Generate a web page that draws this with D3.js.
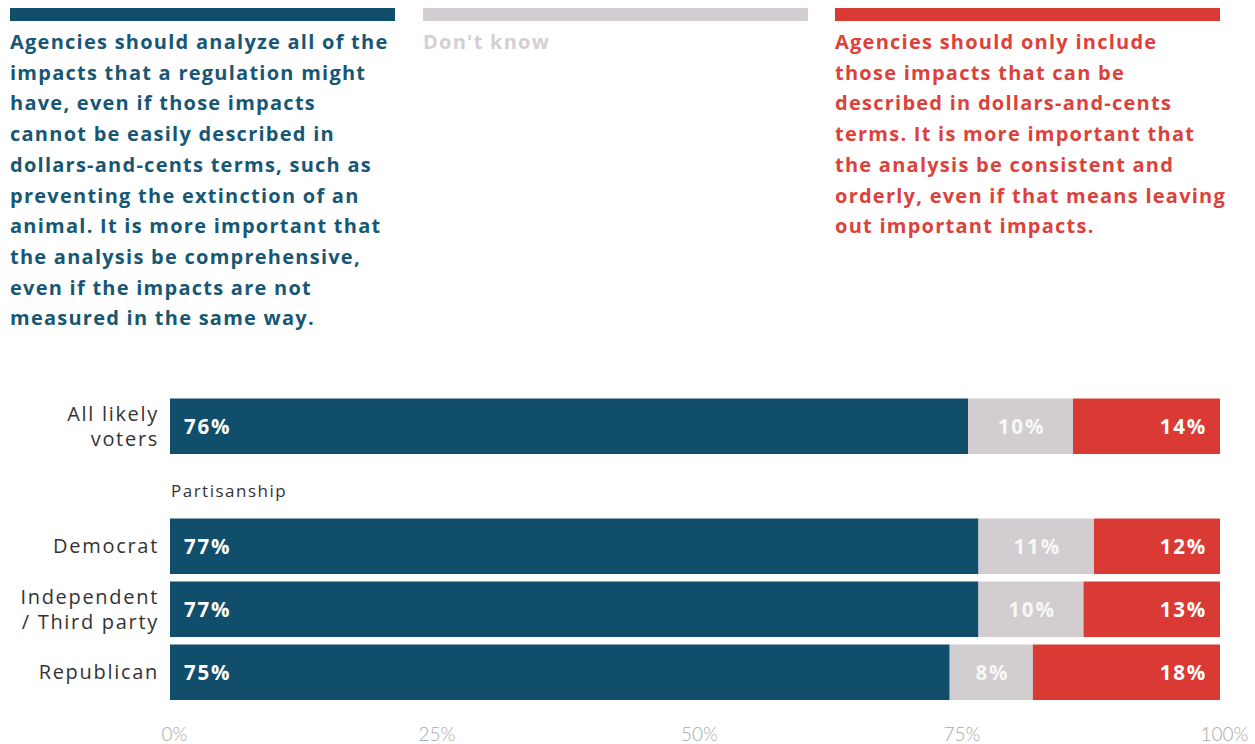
<!DOCTYPE html>
<html>
<head>
<meta charset="utf-8">
<script src="https://cdn.jsdelivr.net/npm/d3@7"></script>
<style>
  html, body { margin: 0; padding: 0; background: #ffffff; }
  svg { display: block; }
  text { font-family: "Open Sans", Lato, sans-serif; }
</style>
</head>
<body>
<svg id="chart" width="1255" height="744"></svg>
<script>
// Survey responses by group (percent of likely voters)
const categories = ["All likely voters", "Democrat", "Independent / Third party", "Republican"];
const categoryLines = [["All likely", "voters"], ["Democrat"], ["Independent", "/ Third party"], ["Republican"]];
const comprehensive = [76, 77, 77, 75];
const dontKnow = [10, 11, 10, 8];
const consistent = [14, 12, 13, 18];

const tickValues = [0, 0.25, 0.5, 0.75, 1];
const tickLabels = ["0%", "25%", "50%", "75%", "100%"];

const seriesKeys = ["comprehensive", "dontKnow", "consistent"];
const legendLines = [
  ["Agencies should analyze all of the", "impacts that a regulation might", "have, even if those impacts",
   "cannot be easily described in", "dollars-and-cents terms, such as", "preventing the extinction of an",
   "animal. It is more important that", "the analysis be comprehensive,", "even if the impacts are not",
   "measured in the same way."],
  ["Don't know"],
  ["Agencies should only include", "those impacts that can be", "described in dollars-and-cents",
   "terms. It is more important that", "the analysis be consistent and",
   "orderly, even if that means leaving", "out important impacts."]
];
const groupLabel = "Partisanship";

const colors = { comprehensive: "#114e6b", dontKnow: "#d1cdd0", consistent: "#da3a34" };
const textColors = { comprehensive: "#175774", dontKnow: "#d3cfd2", consistent: "#dc413b" };

const rows = categories.map((c, i) => ({
  category: c,
  comprehensive: comprehensive[i],
  dontKnow: dontKnow[i],
  consistent: consistent[i]
}));

const svg = d3.select("#chart");

// Layout
const plotLeft = 170, plotRight = 1220;
const firstTop = 398.5, rowStep = 63, barH = 55.5, groupGap = 57;

const x = d3.scaleLinear().domain([0, 1]).range([plotLeft, plotRight]);
const yBand = d3.scaleBand()
  .domain(categories)
  .range([firstTop, firstTop + rowStep * categories.length - (rowStep - barH)])
  .paddingInner((rowStep - barH) / rowStep)
  .paddingOuter(0);
const y = c => yBand(c) + (categories.indexOf(c) > 0 ? groupGap : 0);

// Stack normalised per row so each bar spans the full width
const stacked = d3.stack().keys(seriesKeys).offset(d3.stackOffsetExpand)(rows);

// Legend: colour strip above each column heading
const legendX = d3.scaleOrdinal().domain(seriesKeys).range([10, 423, 835]);
const legendW = 385;
const legend = svg.append("g");
seriesKeys.forEach((k, i) => {
  legend.append("rect")
    .attr("x", legendX(k)).attr("y", 8)
    .attr("width", legendW).attr("height", 13)
    .attr("fill", colors[k]);
  const t = legend.append("text")
    .attr("x", legendX(k)).attr("y", 49)
    .attr("fill", textColors[k])
    .style("font-weight", 700)
    .style("font-size", "20px")
    .style("letter-spacing", "1.25px");
  legendLines[i].forEach((line, j) => {
    t.append("tspan").attr("x", legendX(k)).attr("y", 49 + j * 30.7).text(line);
  });
});

// Bars
const barG = svg.append("g");
stacked.forEach(layer => {
  barG.selectAll(null)
    .data(layer)
    .join("rect")
    .attr("x", d => x(d[0]))
    .attr("y", d => y(d.data.category))
    .attr("width", d => x(d[1]) - x(d[0]))
    .attr("height", yBand.bandwidth())
    .attr("fill", colors[layer.key]);
});

// Value labels
const labelG = svg.append("g")
  .style("font-weight", 700)
  .style("font-size", "20.5px");
stacked.forEach(layer => {
  const k = layer.key;
  labelG.selectAll(null)
    .data(layer)
    .join("text")
    .attr("x", d => k === "comprehensive" ? x(d[0]) + 14
                  : k === "consistent" ? x(d[1]) - 13
                  : (x(d[0]) + x(d[1])) / 2 + 1)
    .attr("y", d => y(d.data.category) + yBand.bandwidth() / 2)
    .attr("dy", "0.36em")
    .attr("text-anchor", k === "comprehensive" ? "start" : k === "consistent" ? "end" : "middle")
    .attr("fill", k === "dontKnow" ? "#f7f7f7" : "#ffffff")
    .style("letter-spacing", "1.8px")
    .text(d => d.data[k] + "%");
});

// Category labels
const catG = svg.append("g")
  .style("font-size", "20px")
  .attr("fill", "#333333");
categories.forEach((c, i) => {
  const lines = categoryLines[i];
  const cy = y(c) + yBand.bandwidth() / 2;
  const lh = 24.5;
  const t = catG.append("text")
    .attr("text-anchor", "end")
    .style("letter-spacing", "1.7px");
  lines.forEach((line, j) => {
    t.append("tspan")
      .attr("x", 159)
      .attr("y", cy + (j - (lines.length - 1) / 2) * lh)
      .attr("dy", "0.36em")
      .text(line);
  });
});

// Group heading
svg.append("text")
  .attr("x", plotLeft + 1)
  .attr("y", y(categories[1]) - 22)
  .attr("fill", "#333333")
  .style("font-size", "17px")
  .style("letter-spacing", "1.5px")
  .text(groupLabel);

// Percentage axis
const axis = d3.axisBottom(x)
  .tickValues(tickValues)
  .tickFormat((d, i) => tickLabels[i])
  .tickSize(0)
  .tickPadding(0);
const axisG = svg.append("g")
  .attr("transform", "translate(4, 727)")
  .call(axis);
axisG.select(".domain").remove();
axisG.selectAll("text")
  .attr("fill", "#a9a9a9")
  .style("font-family", "Lato, sans-serif")
  .style("font-weight", 300)
  .style("font-size", "19px");
</script>
</body>
</html>
